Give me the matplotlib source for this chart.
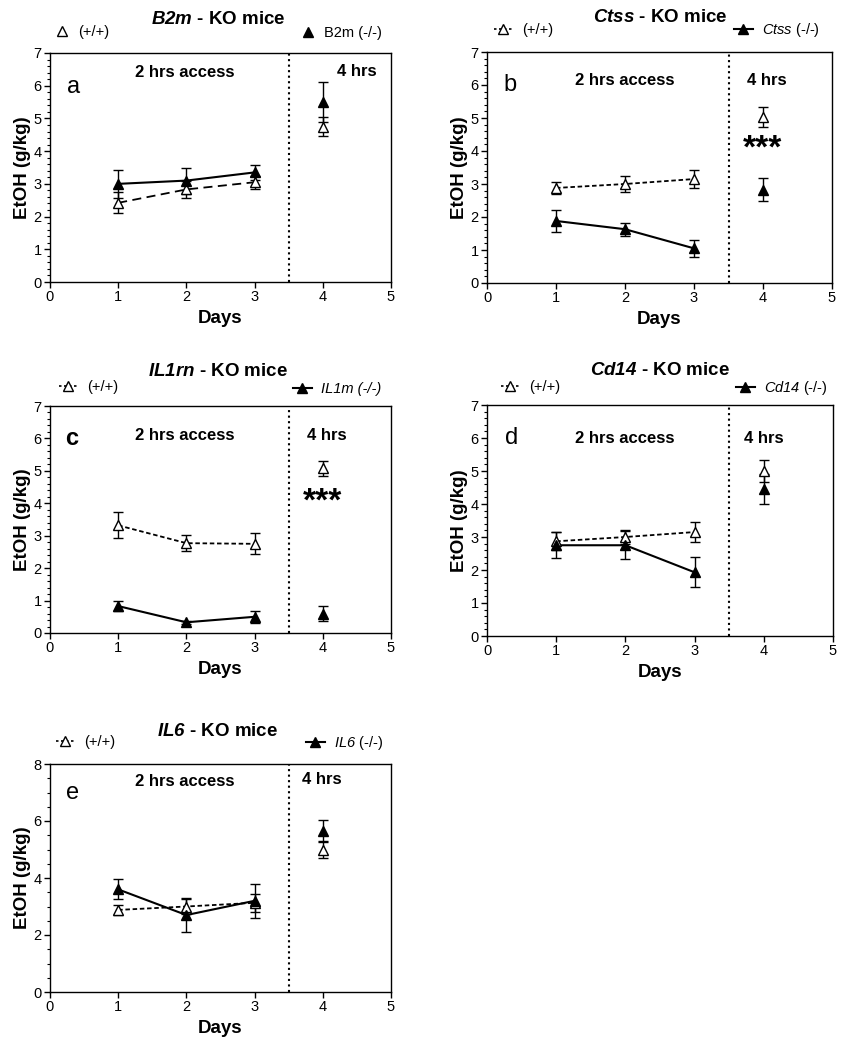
import matplotlib
matplotlib.use("Agg")
import matplotlib.pyplot as plt
from matplotlib.lines import Line2D
from matplotlib.ticker import AutoMinorLocator, MultipleLocator

plt.rcParams['font.family'] = ['Liberation Sans', 'DejaVu Sans']
plt.rcParams['mathtext.fontset'] = 'custom'
plt.rcParams['mathtext.rm'] = 'Liberation Sans'
plt.rcParams['mathtext.sf'] = 'Liberation Sans:italic'
plt.rcParams['mathtext.bf'] = 'Liberation Sans:bold:italic'

days = [1, 2, 3, 4]

b2m_wt = [2.42, 2.83, 3.05, 4.75]
b2m_wt_err = [0.32, 0.25, 0.2, 0.3]
b2m_ko = [3.0, 3.1, 3.35, 5.5]
b2m_ko_err = [0.43, 0.4, 0.22, 0.6]

ctss_wt = [2.88, 3.0, 3.15, 5.02]
ctss_wt_err = [0.17, 0.25, 0.28, 0.3]
ctss_ko = [1.88, 1.63, 1.05, 2.83]
ctss_ko_err = [0.32, 0.2, 0.25, 0.35]

il1rn_wt = [3.32, 2.77, 2.75, 5.08]
il1rn_wt_err = [0.4, 0.25, 0.32, 0.23]
il1rn_ko = [0.83, 0.33, 0.5, 0.6]
il1rn_ko_err = [0.15, 0.04, 0.18, 0.22]

cd14_wt = [2.87, 3.0, 3.15, 5.0]
cd14_wt_err = [0.27, 0.22, 0.3, 0.32]
cd14_ko = [2.75, 2.75, 1.93, 4.45]
cd14_ko_err = [0.4, 0.42, 0.45, 0.45]

il6_wt = [2.88, 3.0, 3.13, 5.0]
il6_wt_err = [0.18, 0.28, 0.32, 0.3]
il6_ko = [3.6, 2.7, 3.2, 5.65]
il6_ko_err = [0.35, 0.6, 0.6, 0.38]

W, H = 851, 1050
fig = plt.figure(figsize=(W / 100, H / 100), dpi=100)


def px(x, y):
    return x / W, 1 - y / H


def panel(rect, wt, wt_err, ko, ko_err, ymax, ystep, nminor, letter, lpos,
          title_gene, title_xy, ko_label, leg_left, leg_right, wt_dash,
          handle_lines, txt2, txt4, stars=None, ko_italic=False, letter_bold=False):
    l, t, r, b = rect
    ax = fig.add_axes([l / W, 1 - b / H, (r - l) / W, (b - t) / H])
    ax.set_xlim(0, 5)
    ax.set_ylim(0, ymax)
    ax.xaxis.set_major_locator(MultipleLocator(1))
    ax.yaxis.set_major_locator(MultipleLocator(ystep))
    ax.yaxis.set_minor_locator(AutoMinorLocator(nminor))
    ax.tick_params(direction='out', labelsize=10.5, length=4, width=1, pad=2)
    ax.tick_params(which='minor', length=2, width=0.8)
    for s in ax.spines.values():
        s.set_linewidth(1)

    ax.axvline(3.5, color='black', ls=':', lw=1.5)

    # lines over days 1-3
    ax.plot(days[:3], wt[:3], color='black', lw=1.3, dashes=wt_dash, zorder=2)
    ax.plot(days[:3], ko[:3], color='black', lw=1.5, zorder=2)
    ax.errorbar(days, wt, yerr=wt_err, fmt='^', color='black', mfc='white',
                mec='black', ms=7, capsize=3.5, elinewidth=1, capthick=1, zorder=3)
    ax.errorbar(days, ko, yerr=ko_err, fmt='^', color='black', mfc='black',
                ms=7, capsize=3.5, elinewidth=1, capthick=1, zorder=3)

    ax.set_xlabel('Days', fontsize=13.5, fontweight='bold', labelpad=4)
    ax.set_ylabel('EtOH (g/kg)', fontsize=13.5, fontweight='bold', labelpad=2)

    ax.text(txt2[0], txt2[1], '2 hrs access', fontsize=12, fontweight='bold',
            ha='center', va='center')
    ax.text(txt4[0], txt4[1], '4 hrs', fontsize=12, fontweight='bold',
            ha='center', va='center')
    ax.text(lpos[0], lpos[1], letter, fontsize=17,
            fontweight='bold' if letter_bold else 'normal', ha='center', va='center')
    if stars is not None:
        ax.text(4, stars, '***', fontsize=24, fontweight='bold', ha='center', va='center')

    fig.text(*px(*title_xy), r'$\mathbf{%s}$ - KO mice' % title_gene, fontsize=13.5,
             fontweight='bold', ha='center', va='center')

    if handle_lines:
        h_wt = Line2D([], [], color='black', lw=1.2, dashes=(1.5, 1.5), marker='^',
                      mfc='white', mec='black', ms=6.5)
        h_ko = Line2D([], [], color='black', lw=1.5, marker='^', mfc='black', ms=6.5)
        hl = 1.3
    else:
        h_wt = Line2D([], [], ls='none', marker='^', mfc='white', mec='black', ms=6.5)
        h_ko = Line2D([], [], ls='none', marker='^', mfc='black', mec='black', ms=6.5)
        hl = 1.0
    fig.legend([h_wt], ['(+/+)'], loc='center left',
               bbox_to_anchor=px(*leg_left), frameon=False, fontsize=10.5,
               handlelength=hl, handletextpad=0.6, borderpad=0, borderaxespad=0)
    prop = {'size': 10.5}
    if ko_italic:
        prop['style'] = 'italic'
    fig.legend([h_ko], [ko_label], loc='center left',
               bbox_to_anchor=px(*leg_right), frameon=False, prop=prop,
               handlelength=hl, handletextpad=0.6, borderpad=0, borderaxespad=0)
    return ax


panel((50, 53, 391, 282), b2m_wt, b2m_wt_err, b2m_ko, b2m_ko_err, 7, 1, 5,
      'a', (0.35, 5.95), 'B2m', (218, 20), 'B2m (-/-)', (55, 32), (301, 33),
      (5, 3), False, (1.98, 6.4), (4.5, 6.42))

panel((487, 52, 832, 283), ctss_wt, ctss_wt_err, ctss_ko, ctss_ko_err, 7, 1, 5,
      'b', (0.33, 6.0), 'Ctss', (660, 18), r'$\mathsf{Ctss}$ (-/-)', (494, 30), (734, 30),
      (2.5, 1.5), True, (2.0, 6.15), (4.06, 6.15), stars=4.05)

panel((50, 406, 391, 633), il1rn_wt, il1rn_wt_err, il1rn_ko, il1rn_ko_err, 7, 1, 5,
      'c', (0.32, 6.0), 'IL1rn', (218, 372), 'IL1m (-/-)', (59, 387), (293, 389),
      (2.5, 1.5), True, (1.98, 6.1), (4.06, 6.1), stars=4.05, ko_italic=True,
      letter_bold=True)

panel((487, 405, 833, 636), cd14_wt, cd14_wt_err, cd14_ko, cd14_ko_err, 7, 1, 5,
      'd', (0.36, 6.0), 'Cd14', (660, 371), r'$\mathsf{Cd14}$ (-/-)', (501, 387), (736, 388),
      (2.5, 1.5), True, (1.99, 6.0), (4.0, 6.0))

panel((50, 764, 391, 992), il6_wt, il6_wt_err, il6_ko, il6_ko_err, 8, 2, 4,
      'e', (0.33, 6.98), 'IL6', (218, 731), r'$\mathsf{IL6}$ (-/-)', (56, 742), (306, 743),
      (2.5, 1.5), True, (1.97, 7.4), (3.98, 7.45))

fig.savefig('out.png', dpi=100)
